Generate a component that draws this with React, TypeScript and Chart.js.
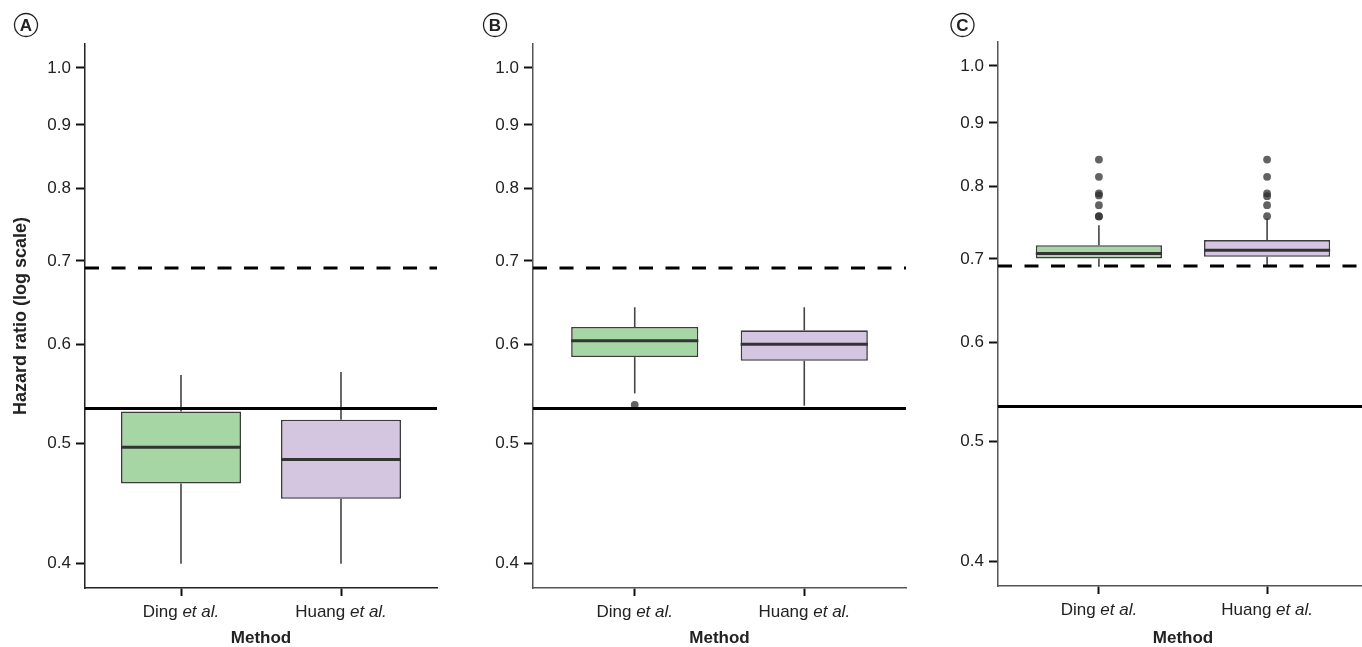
import React, { useEffect, useRef } from "react";
import { Chart, registerables } from "chart.js";
Chart.register(...registerables);

// ---------------- data ----------------
const categories = ["Ding", "Huang"];
const categorySuffix = "et al.";
const panelLetters = ["A", "B", "C"];
const yTicks = [0.4, 0.5, 0.6, 0.7, 0.8, 0.9, 1.0];
const yMin = 0.3825;
const yMax = 1.045;
const xMin = -0.6;
const xMax = 1.6;
const refDashed = 0.691;
const refSolid = 0.533;
const yTitle = "Hazard ratio (log scale)";
const xTitle = "Method";

// Panel A
const lowA = [0.4, 0.4];
const q1A = [0.464, 0.451];
const medA = [0.496, 0.485];
const q3A = [0.53, 0.522];
const highA = [0.567, 0.57];
const outDingA: number[] = [];
const outHuangA: number[] = [];

// Panel B
const lowB = [0.548, 0.5357];
const q1B = [0.586, 0.582];
const medB = [0.604, 0.6];
const q3B = [0.6195, 0.6157];
const highB = [0.6425, 0.6425];
const outDingB = [0.5365];
const outHuangB: number[] = [];

// Panel C
const lowC = [0.69, 0.691];
const q1C = [0.7006, 0.7027];
const medC = [0.707, 0.7114];
const q3C = [0.718, 0.7247];
const highC = [0.745, 0.7545];
const outDingC = [0.757, 0.7575, 0.773, 0.787, 0.79, 0.8146, 0.841];
const outHuangC = [0.7575, 0.773, 0.786, 0.79, 0.8146, 0.841];

// ---------------- styles / layout ----------------
const FONT = '"Liberation Sans", Arial, Helvetica, sans-serif';
const boxColors = ["rgb(166,214,164)", "rgb(212,198,225)"];
const CANVAS_H = 647;

type PanelData = {
  low: number[];
  q1: number[];
  med: number[];
  q3: number[];
  high: number[];
  outliers: number[][];
};

type PanelLayout = {
  left: number;
  width: number;
  yAxisWidth: number;
  padRight: number;
  padTop: number;
  xHeight: number;
  letterX: number;
  showYTitle: boolean;
  axisColor: string;
};

const panels: { data: PanelData; layout: PanelLayout; letter: string }[] = [
  {
    letter: panelLetters[0],
    data: { low: lowA, q1: q1A, med: medA, q3: q3A, high: highA, outliers: [outDingA, outHuangA] },
    layout: { left: 0, width: 445, yAxisWidth: 85, padRight: 8, padTop: 44, xHeight: 59, letterX: 26, showYTitle: true, axisColor: "#222" },
  },
  {
    letter: panelLetters[1],
    data: { low: lowB, q1: q1B, med: medB, q3: q3B, high: highB, outliers: [outDingB, outHuangB] },
    layout: { left: 450, width: 460, yAxisWidth: 83, padRight: 3, padTop: 44, xHeight: 59, letterX: 45, showYTitle: false, axisColor: "#555" },
  },
  {
    letter: panelLetters[2],
    data: { low: lowC, q1: q1C, med: medC, q3: q3C, high: highC, outliers: [outDingC, outHuangC] },
    layout: { left: 912, width: 460, yAxisWidth: 86, padRight: 1, padTop: 42, xHeight: 61, letterX: 50.5, showYTitle: false, axisColor: "#555" },
  },
];

const HALF_BOX = 0.375;

function buildDatasets(d: PanelData): any[] {
  const ds: any[] = [];
  // boxes (floating bars)
  ds.push({
    type: "bar",
    data: categories.map((_, i) => ({ x: i, y: [d.q1[i], d.q3[i]] })),
    backgroundColor: boxColors,
    borderColor: "#3c3c3c",
    borderWidth: 1.6,
    borderSkipped: false,
    categoryPercentage: 1,
    barPercentage: HALF_BOX * 2,
    order: 3,
  });
  categories.forEach((_, i) => {
    // whiskers
    ds.push({
      type: "line",
      data: [
        { x: i, y: d.low[i] },
        { x: i, y: d.q1[i] },
      ],
      borderColor: "#444",
      borderWidth: 1.6,
      pointRadius: 0,
      order: 4,
    });
    ds.push({
      type: "line",
      data: [
        { x: i, y: d.q3[i] },
        { x: i, y: d.high[i] },
      ],
      borderColor: "#444",
      borderWidth: 1.6,
      pointRadius: 0,
      order: 4,
    });
    // median
    ds.push({
      type: "line",
      data: [
        { x: i - HALF_BOX, y: d.med[i] },
        { x: i + HALF_BOX, y: d.med[i] },
      ],
      borderColor: "#333",
      borderWidth: 3,
      pointRadius: 0,
      order: 2,
    });
    // outliers
    if (d.outliers[i].length) {
      ds.push({
        type: "scatter",
        data: d.outliers[i].map((v) => ({ x: i, y: v })),
        backgroundColor: "rgba(45,45,45,0.75)",
        borderWidth: 0,
        pointRadius: 3.9,
        order: 1,
      });
    }
  });
  // reference lines
  ds.push({
    type: "line",
    data: [
      { x: xMin, y: refDashed },
      { x: xMax, y: refDashed },
    ],
    borderColor: "#000",
    borderWidth: 3,
    borderDash: [14, 12.5],
    pointRadius: 0,
    order: 0,
  });
  ds.push({
    type: "line",
    data: [
      { x: xMin, y: refSolid },
      { x: xMax, y: refSolid },
    ],
    borderColor: "#000",
    borderWidth: 3,
    pointRadius: 0,
    order: 0,
  });
  return ds;
}

function Panel({ data, layout, letter }: { data: PanelData; layout: PanelLayout; letter: string }) {
  const ref = useRef<HTMLCanvasElement | null>(null);
  useEffect(() => {
    if (!ref.current) return;
    const decor = {
      id: "decor" + letter,
      afterDraw(chart: any) {
        const ctx = chart.ctx as CanvasRenderingContext2D;
        const xs = chart.scales.x;
        const area = chart.chartArea;
        ctx.save();
        // circled panel letter
        ctx.beginPath();
        ctx.arc(layout.letterX, 25, 11.5, 0, Math.PI * 2);
        ctx.lineWidth = 1.3;
        ctx.strokeStyle = "#222";
        ctx.stroke();
        ctx.font = `bold 17px ${FONT}`;
        ctx.fillStyle = "#222";
        ctx.textAlign = "center";
        ctx.textBaseline = "middle";
        ctx.fillText(letter, layout.letterX, 26);
        // x tick labels with italic "et al."
        const reg = `17px ${FONT}`;
        const ital = `italic 17px ${FONT}`;
        ctx.textAlign = "left";
        ctx.textBaseline = "alphabetic";
        ctx.fillStyle = "#222";
        categories.forEach((c, i) => {
          const cx = xs.getPixelForValue(i);
          ctx.font = reg;
          const w1 = ctx.measureText(c + " ").width;
          ctx.font = ital;
          const w2 = ctx.measureText(categorySuffix).width;
          const sx = cx - (w1 + w2) / 2;
          const y = area.bottom + 28.5;
          ctx.font = reg;
          ctx.fillText(c + " ", sx, y);
          ctx.font = ital;
          ctx.fillText(categorySuffix, sx + w1, y);
        });
        ctx.restore();
      },
    };
    const chart = new Chart(ref.current, {
      type: "scatter",
      data: { datasets: buildDatasets(data) },
      options: {
        animation: false,
        responsive: false,
        devicePixelRatio: 1,
        layout: { padding: { top: layout.padTop, right: layout.padRight, left: 0, bottom: 0 } },
        plugins: { legend: { display: false }, tooltip: { enabled: false } },
        scales: {
          x: {
            type: "linear",
            min: xMin,
            max: xMax,
            offset: false,
            afterBuildTicks: (axis: any) => {
              axis.ticks = categories.map((_, i) => ({ value: i }));
            },
            afterFit: (axis: any) => {
              axis.height = layout.xHeight;
            },
            ticks: { display: false },
            grid: {
              drawOnChartArea: false,
              drawTicks: true,
              tickLength: 8,
              tickWidth: 2,
              tickColor: "#111",
              offset: false,
            },
            border: { display: true, color: layout.axisColor, width: 1.5 },
            title: {
              display: true,
              text: xTitle,
              color: "#222",
              font: { family: FONT, size: 17, weight: "bold", lineHeight: 1 },
              padding: { top: 0, bottom: 0 },
            },
          },
          y: {
            type: "logarithmic",
            min: yMin,
            max: yMax,
            afterBuildTicks: (axis: any) => {
              axis.ticks = yTicks.map((v) => ({ value: v }));
            },
            afterFit: (axis: any) => {
              axis.width = layout.yAxisWidth;
            },
            ticks: {
              callback: (v: any) => Number(v).toFixed(1),
              color: "#222",
              font: { family: FONT, size: 17 },
              padding: 5,
              autoSkip: false,
              maxRotation: 0,
            },
            grid: {
              drawOnChartArea: false,
              drawTicks: true,
              tickLength: 9,
              tickWidth: 2,
              tickColor: "#111",
            },
            border: { display: true, color: layout.axisColor, width: 1.5 },
            title: {
              display: layout.showYTitle,
              text: yTitle,
              color: "#222",
              font: { family: FONT, size: 18, weight: "bold" },
              padding: { top: 10, bottom: 0 },
            },
          },
        },
      } as any,
      plugins: [decor],
    });
    return () => chart.destroy();
  }, []);
  return (
    <canvas
      ref={ref}
      width={layout.width}
      height={CANVAS_H}
      style={{ position: "absolute", left: layout.left, top: 0, width: layout.width, height: CANVAS_H, display: "block" }}
    />
  );
}

export default function App() {
  return (
    <div
      style={{
        position: "absolute",
        left: 0,
        top: 0,
        width: 1362,
        height: CANVAS_H,
        overflow: "hidden",
        background: "#fff",
      }}
    >
      {panels.map((p) => (
        <Panel key={p.letter} data={p.data} layout={p.layout} letter={p.letter} />
      ))}
    </div>
  );
}
